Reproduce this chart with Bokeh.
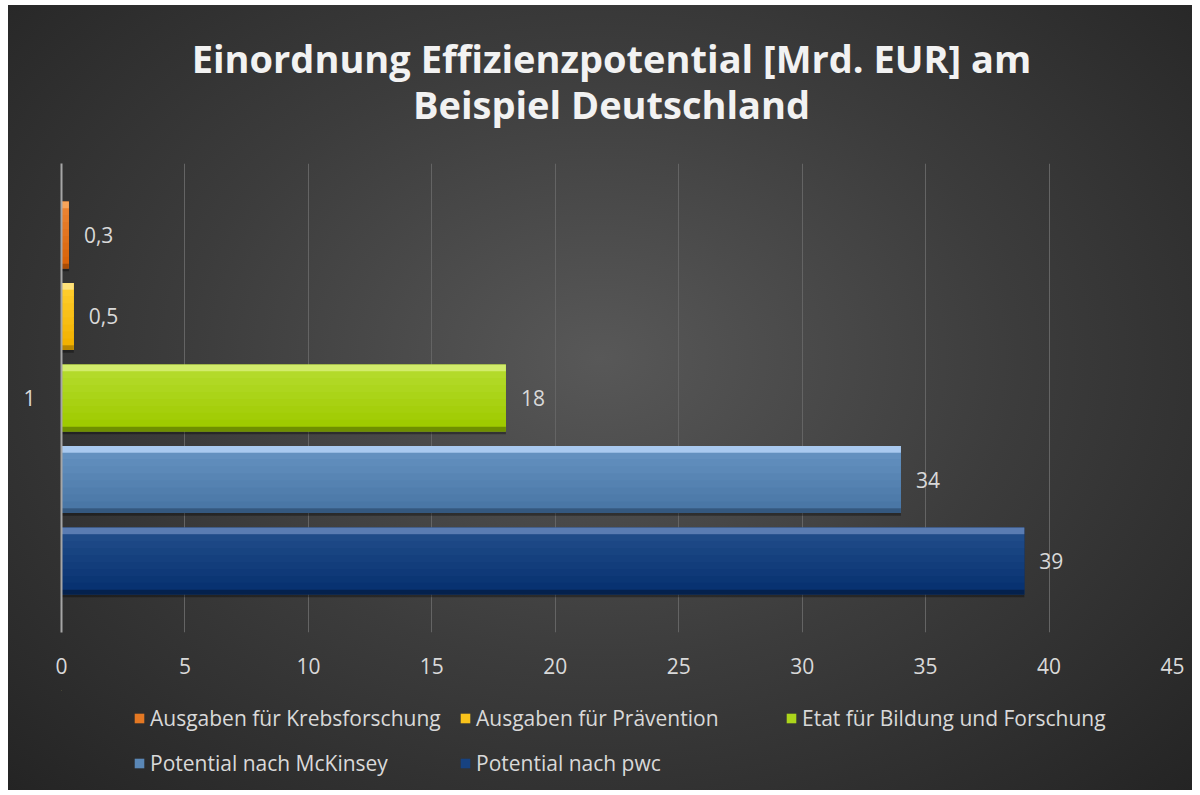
from bokeh.plotting import figure
from bokeh.layouts import column
from bokeh.models import (Range1d, FixedTicker, Legend, LegendItem, ColumnDataSource)
from bokeh.core.properties import value
from bokeh.embed import file_html
from bokeh.resources import INLINE

# ---- data ----
categories = ["1"]
series_names = ["Ausgaben für Krebsforschung", "Ausgaben für Prävention",
                "Etat für Bildung und Forschung", "Potential nach McKinsey",
                "Potential nach pwc"]
series_values = [0.3, 0.5, 18, 34, 39]
value_labels = ["0,3", "0,5", "18", "34", "39"]
x_ticks = [0, 5, 10, 15, 20, 25, 30, 35, 40, 45]
title_lines = ["Einordnung Effizienzpotential [Mrd. EUR] am", "Beispiel Deutschland"]

# ---- styling ----
# (top highlight, body top, body bottom, bottom edge)
palettes = [
    ("#f6a45a", "#ea8230", "#d9640a", "#a84c05"),
    ("#ffe27a", "#ffcc2a", "#f2b100", "#b88600"),
    ("#d2ec6c", "#b3da2a", "#9fcb00", "#6f8f00"),
    ("#a9c9ef", "#6390bf", "#4a77a6", "#34587f"),
    ("#5a7cb2", "#1f4b88", "#083271", "#04214d"),
]
FONT = "Open Sans"
TXT = "#d9d9d9"
FS = "21px"
W = 1184
# page-pixel extents of the three stacked panels (frame spans x 61..1172)
TITLE_Y = (5, 155)
LEG_Y = (690, 790)
FRAME_X = (61, 1172)


def helper_fig(ys):
    f = figure(width=W, height=ys[1] - ys[0], output_backend="svg", toolbar_location=None,
               x_axis_type=None, y_axis_type=None, min_border=0,
               x_range=Range1d(*FRAME_X), y_range=Range1d(ys[1], ys[0]), title=None)
    f.background_fill_alpha = 0
    f.border_fill_alpha = 0
    f.outline_line_color = None
    f.xgrid.visible = False
    f.ygrid.visible = False
    return f

# ---- title ----
pt = helper_fig(TITLE_Y)
pt.text(x=[611, 611], y=[57, 103], text=title_lines, text_font=value(FONT),
        text_font_size="38px", text_font_style="bold", text_color="#f2f2f2",
        text_align="center", text_baseline="middle")

# ---- chart ----
p = figure(width=W, height=LEG_Y[0] - TITLE_Y[1], output_backend="svg", toolbar_location=None,
           x_range=Range1d(0, 45), y_range=Range1d(0.5, 1.5),
           min_border_left=53, min_border_right=20, min_border_top=8,
           min_border_bottom=58, title=None)
p.background_fill_alpha = 0
p.border_fill_alpha = 0
p.outline_line_color = None

xa = p.xaxis[0]
xa.ticker = FixedTicker(ticks=x_ticks)
xa.axis_line_color = None
xa.major_tick_line_color = None
xa.minor_tick_line_color = None
xa.major_label_text_font = FONT
xa.major_label_text_font_size = FS
xa.major_label_text_color = TXT
xa.major_label_standoff = 19

ya = p.yaxis[0]
ya.ticker = FixedTicker(ticks=[1])
ya.major_label_overrides = {1: categories[0]}
ya.axis_line_color = "#a6a6a6"
ya.axis_line_width = 2
ya.major_tick_line_color = None
ya.minor_tick_line_color = None
ya.major_label_text_font = FONT
ya.major_label_text_font_size = FS
ya.major_label_text_color = TXT
ya.major_label_standoff = 20

p.xgrid.grid_line_color = "#646464"
p.xgrid.grid_line_width = 1
p.xgrid.ticker = FixedTicker(ticks=x_ticks)
p.ygrid.grid_line_color = None

n = len(series_values)
pitch = 0.1738
bar_h = 0.143


def mix(c1, c2, t):
    a = [int(c1[i:i + 2], 16) for i in (1, 3, 5)]
    b = [int(c2[i:i + 2], 16) for i in (1, 3, 5)]
    return "#%02x%02x%02x" % tuple(round(a[k] + (b[k] - a[k]) * t) for k in range(3))

for i, (name, v, lab) in enumerate(zip(series_names, series_values, value_labels)):
    yc = 1 + (n // 2 - i) * pitch
    hi, b1, b2, edge = palettes[i]
    p.hbar(y=yc - 0.006, left=0, right=v, height=bar_h, fill_color="black",
           fill_alpha=0.35, line_color=None)
    p.hbar(y=yc, left=0, right=v, height=bar_h, fill_color=mix(b1, b2, 0.5),
           line_color=None)
    top = yc + bar_h / 2
    hi_h = bar_h * 0.10
    edge_h = bar_h * 0.07
    body_h = bar_h - hi_h - edge_h
    nstrip = 8
    for k in range(nstrip):
        sh = body_h / nstrip
        p.hbar(y=top - hi_h - sh * (k + 0.5), left=0, right=v, height=sh * 1.02,
               fill_color=mix(b1, b2, k / (nstrip - 1)), line_color=None)
    p.hbar(y=top - hi_h / 2, left=0, right=v, height=hi_h, fill_color=hi, line_color=None)
    p.hbar(y=yc - bar_h / 2 + edge_h / 2, left=0, right=v, height=edge_h,
           fill_color=edge, line_color=None)
    src = ColumnDataSource(dict(x=[v], y=[yc], t=[lab]))
    p.text(x="x", y="y", text="t", source=src, x_offset=15,
           text_font=value(FONT), text_font_size=FS, text_color=TXT,
           text_baseline="middle", text_align="left")

# ---- legend (proxy renderers lie outside this panel's visible range) ----
pl = helper_fig(LEG_Y)
items = []
for i, (name, v) in enumerate(zip(series_names, series_values)):
    hi, b1, b2, edge = palettes[i]
    r = pl.hbar(y=[0], left=[0], right=[v], height=1, fill_color=mix(b1, b2, 0.35),
                line_color=None)
    items.append(LegendItem(label=name, renderers=[r]))

legend = Legend(items=items, orientation="horizontal", nrows=2, location=(72, 11))
legend.label_text_font = FONT
legend.label_text_font_size = FS
legend.label_text_color = TXT
legend.glyph_width = 12
legend.glyph_height = 12
legend.label_standoff = 5
legend.label_width = 296
legend.label_height = 32
legend.spacing = 13
legend.padding = 0
legend.margin = 0
legend.background_fill_alpha = 0
legend.border_line_alpha = 0
pl.add_layout(legend, "center")

layout = column(pt, p, pl, spacing=0)
layout.margin = (5, 8, 5, 8)
layout.styles = {"background": "radial-gradient(ellipse at 50% 45%, #585858 0%, #3c3c3c 50%, #242424 100%)"}

open("out.html", "w").write(file_html(layout, INLINE))
